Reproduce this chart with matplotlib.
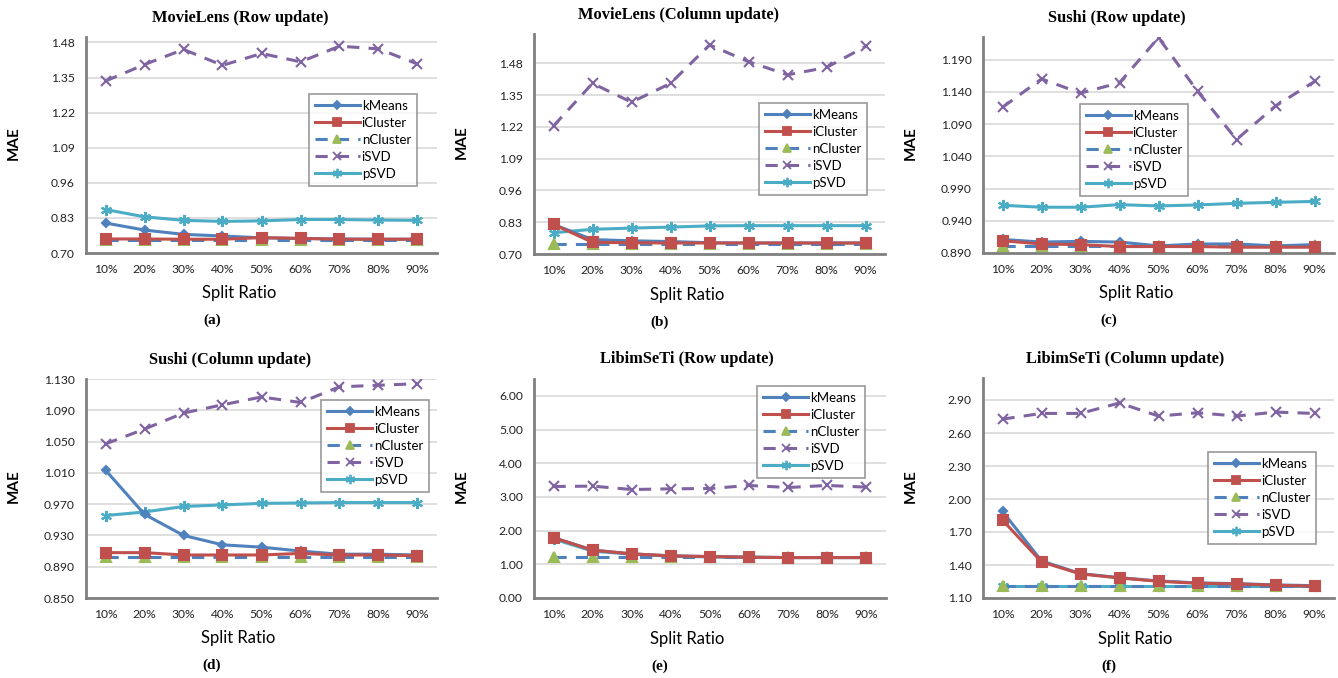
import matplotlib.pyplot as plt
from matplotlib.lines import Line2D

# split ratios on the x axis
ratios = ["10%", "20%", "30%", "40%", "50%", "60%", "70%", "80%", "90%"]
series_names = ["kMeans", "iCluster", "nCluster", "iSVD", "pSVD"]

# (a) MovieLens, row update
ml_row_kmeans = [0.811, 0.785, 0.769, 0.763, 0.756, 0.754, 0.752, 0.751, 0.751]
ml_row_icluster = [0.752, 0.752, 0.751, 0.751, 0.757, 0.754, 0.751, 0.751, 0.751]
ml_row_ncluster = [0.747, 0.747, 0.747, 0.747, 0.747, 0.747, 0.747, 0.747, 0.747]
ml_row_isvd = [1.337, 1.398, 1.454, 1.395, 1.439, 1.408, 1.466, 1.456, 1.400]
ml_row_psvd = [0.861, 0.834, 0.821, 0.817, 0.819, 0.824, 0.824, 0.822, 0.821]

# (b) MovieLens, column update
ml_col_kmeans = [0.821, 0.759, 0.754, 0.751, 0.746, 0.745, 0.745, 0.745, 0.745]
ml_col_icluster = [0.821, 0.748, 0.746, 0.745, 0.745, 0.745, 0.745, 0.745, 0.745]
ml_col_ncluster = [0.741, 0.741, 0.741, 0.741, 0.741, 0.741, 0.741, 0.741, 0.741]
ml_col_isvd = [1.224, 1.398, 1.321, 1.398, 1.555, 1.487, 1.433, 1.463, 1.549]
ml_col_psvd = [0.787, 0.801, 0.806, 0.810, 0.815, 0.816, 0.816, 0.816, 0.816]

# (c) Sushi, row update
su_row_kmeans = [0.911, 0.907, 0.908, 0.907, 0.901, 0.904, 0.904, 0.901, 0.903]
su_row_icluster = [0.909, 0.904, 0.903, 0.900, 0.900, 0.900, 0.899, 0.899, 0.899]
su_row_ncluster = [0.901, 0.901, 0.901, 0.901, 0.901, 0.901, 0.901, 0.901, 0.901]
su_row_isvd = [1.116, 1.160, 1.138, 1.154, 1.224, 1.141, 1.066, 1.118, 1.156]
su_row_psvd = [0.964, 0.961, 0.961, 0.965, 0.963, 0.9645, 0.967, 0.9686, 0.970]

# (d) Sushi, column update
su_col_kmeans = [1.0135, 0.957, 0.930, 0.918, 0.915, 0.910, 0.906, 0.906, 0.905]
su_col_icluster = [0.908, 0.908, 0.905, 0.905, 0.905, 0.907, 0.905, 0.905, 0.904]
su_col_ncluster = [0.902, 0.902, 0.902, 0.902, 0.902, 0.902, 0.902, 0.902, 0.902]
su_col_isvd = [1.047, 1.066, 1.0865, 1.097, 1.107, 1.100, 1.120, 1.122, 1.124]
su_col_psvd = [0.9554, 0.960, 0.967, 0.969, 0.971, 0.9715, 0.972, 0.972, 0.972]

# (e) LibimSeTi, row update
li_row_kmeans = [1.79, 1.42, 1.31, 1.25, 1.23, 1.21, 1.20, 1.20, 1.20]
li_row_icluster = [1.79, 1.42, 1.31, 1.25, 1.23, 1.21, 1.20, 1.20, 1.20]
li_row_ncluster = [1.21, 1.21, 1.21, 1.21, 1.21, 1.21, 1.21, 1.21, 1.21]
li_row_isvd = [3.31, 3.32, 3.22, 3.24, 3.25, 3.34, 3.28, 3.34, 3.29]
li_row_psvd = [1.75, 1.39, 1.30, 1.24, 1.22, 1.21, 1.20, 1.20, 1.20]

# (f) LibimSeTi, column update
li_col_kmeans = [1.887, 1.437, 1.322, 1.285, 1.255, 1.237, 1.231, 1.219, 1.212]
li_col_icluster = [1.808, 1.428, 1.319, 1.282, 1.252, 1.234, 1.228, 1.216, 1.207]
li_col_ncluster = [1.209, 1.209, 1.209, 1.209, 1.209, 1.209, 1.209, 1.209, 1.209]
li_col_isvd = [2.726, 2.778, 2.778, 2.873, 2.754, 2.784, 2.754, 2.790, 2.778]
li_col_psvd = [1.207, 1.207, 1.207, 1.207, 1.207, 1.207, 1.207, 1.207, 1.207]

W, H = 1338, 678
SANS = "Lato"
SERIF = "Liberation Serif"

# line styles per series: color, linestyle, marker, marker color, marker size
styles = [
    dict(color="#4F81BD", ls="-", marker="D", mfc="#4F81BD", ms=4.5),
    dict(color="#C0504D", ls="-", marker="s", mfc="#C0504D", ms=6.5),
    dict(color="#4F81BD", ls=(0, (4, 3)), marker="^", mfc="#9BBB59", ms=6.5),
    dict(color="#8064A2", ls=(0, (4, 3)), marker="x", mfc="#8064A2", ms=7),
    dict(color="#4BACC6", ls="-", marker=(6, 2, 0), mfc="#4BACC6", ms=8),
]


def px(x, y):
    return x / W, 1 - y / H


def draw_panel(fig, box, data, ylim, yticks, yfmt, legend_pos, title, title_xy,
               xlabel_xy, tag, tag_xy, mae_xy):
    left, right, top, bottom = box
    ax = fig.add_axes([left / W, 1 - bottom / H, (right - left) / W, (bottom - top) / H])
    x = list(range(len(ratios)))
    # draw order as in the original: pSVD/iSVD behind, clusters on top
    for i in [4, 3, 0, 2, 1]:
        s = styles[i]
        ax.plot(x, data[i], color=s["color"], linestyle=s["ls"], linewidth=2.2,
                marker=s["marker"], markerfacecolor=s["mfc"], markeredgecolor=s["mfc"],
                markersize=s["ms"], markeredgewidth=1.5, zorder=3)
    ax.set_xlim(-0.5, len(ratios) - 0.5)
    ax.set_ylim(*ylim)
    ax.set_yticks(yticks)
    ax.set_yticklabels([yfmt.format(v) for v in yticks])
    ax.set_xticks(x)
    ax.set_xticklabels(ratios)
    ax.tick_params(length=0, labelsize=8.7, pad=8, labelcolor="#222222")
    for lab in ax.get_xticklabels() + ax.get_yticklabels():
        lab.set_fontfamily(SANS)
    ax.grid(axis="y", color="#D9D9D9", linewidth=1.2)
    ax.set_axisbelow(True)
    for side in ["top", "right"]:
        ax.spines[side].set_visible(False)
    for side in ["left", "bottom"]:
        ax.spines[side].set_color("#808080")
        ax.spines[side].set_linewidth(2)

    handles = []
    for i, s in enumerate(styles):
        handles.append(Line2D([], [], color=s["color"], linestyle=s["ls"], linewidth=2.2,
                              marker=s["marker"], markerfacecolor=s["mfc"],
                              markeredgecolor=s["mfc"], markersize=s["ms"] * 0.85,
                              markeredgewidth=1.3))
    leg = ax.legend(handles, series_names, loc="upper left", bbox_to_anchor=legend_pos,
                    borderaxespad=0, frameon=True, fancybox=False, handlelength=3.4,
                    handletextpad=0.15, labelspacing=0.38, borderpad=0.45,
                    prop={"family": SANS, "size": 9.5}, markerscale=1)
    leg.get_frame().set_edgecolor("#808080")
    leg.get_frame().set_linewidth(1.2)
    leg.set_zorder(5)

    fig.text(*px(*title_xy), title, ha="center", va="center",
             family=SERIF, fontweight="bold", fontsize=11.8)
    fig.text(*px(*xlabel_xy), "Split Ratio", ha="center", va="center",
             family=SANS, fontsize=12)
    fig.text(*px(*tag_xy), tag, ha="center", va="center",
             family=SERIF, fontweight="bold", fontsize=11)
    fig.text(*px(*mae_xy), "MAE", ha="center", va="center", rotation=90,
             family=SANS, fontsize=11, fontweight="bold")
    return ax


fig = plt.figure(figsize=(W / 100, H / 100), dpi=100)

draw_panel(fig, (86, 437, 37, 253),
           [ml_row_kmeans, ml_row_icluster, ml_row_ncluster, ml_row_isvd, ml_row_psvd],
           (0.70, 1.50), [0.70, 0.83, 0.96, 1.09, 1.22, 1.35, 1.48], "{:.2f}",
           (0.635, 0.736), "MovieLens (Row update)", (240, 18),
           (239, 293), "(a)", (212, 320), (14, 143))

draw_panel(fig, (534, 885, 34, 254),
           [ml_col_kmeans, ml_col_icluster, ml_col_ncluster, ml_col_isvd, ml_col_psvd],
           (0.70, 1.60), [0.70, 0.83, 0.96, 1.09, 1.22, 1.35, 1.48], "{:.2f}",
           (0.641, 0.686), "MovieLens (Column update)", (678, 15),
           (687, 295), "(b)", (660, 322), (462, 142))

draw_panel(fig, (983, 1334, 37, 253),
           [su_row_kmeans, su_row_icluster, su_row_ncluster, su_row_isvd, su_row_psvd],
           (0.890, 1.225), [0.890, 0.940, 0.990, 1.040, 1.090, 1.140, 1.190], "{:.3f}",
           (0.276, 0.69), "Sushi (Row update)", (1117, 18),
           (1136, 293), "(c)", (1109, 320), (911, 143))

draw_panel(fig, (86, 437, 379, 598),
           [su_col_kmeans, su_col_icluster, su_col_ncluster, su_col_isvd, su_col_psvd],
           (0.850, 1.130), [0.850, 0.890, 0.930, 0.970, 1.010, 1.050, 1.090, 1.130], "{:.3f}",
           (0.67, 0.904), "Sushi (Column update)", (230, 360),
           (238, 638), "(d)", (212, 665), (14, 486))

draw_panel(fig, (534, 886, 379, 598),
           [li_row_kmeans, li_row_icluster, li_row_ncluster, li_row_isvd, li_row_psvd],
           (0.0, 6.5), [0, 1, 2, 3, 4, 5, 6], "{:.2f}",
           (0.634, 0.968), "LibimSeTi (Row update)", (687, 359),
           (687, 639), "(e)", (660, 666), (462, 486))

draw_panel(fig, (983, 1334, 378, 598),
           [li_col_kmeans, li_col_icluster, li_col_ncluster, li_col_isvd, li_col_psvd],
           (1.10, 3.10), [1.10, 1.40, 1.70, 2.00, 2.30, 2.60, 2.90], "{:.2f}",
           (0.641, 0.664), "LibimSeTi (Column update)", (1125, 359),
           (1135, 639), "(f)", (1109, 666), (911, 486))

fig.savefig("out.png", dpi=100)
